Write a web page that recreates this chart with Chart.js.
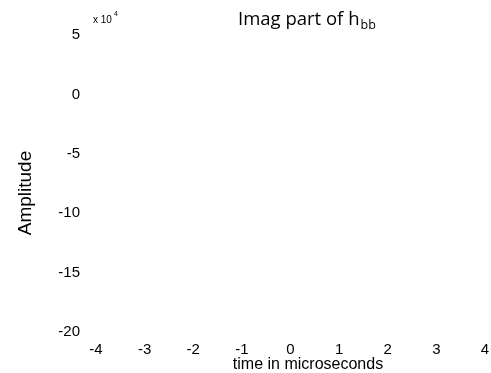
<!DOCTYPE html>
<html>
<head>
<meta charset="utf-8">
<script src="https://cdn.jsdelivr.net/npm/chart.js@4"></script>
<style>
    html, body { margin: 0; padding: 0; background: #fff; }
    #wrap { width: 491px; height: 373px; }
</style>
</head>
<body>
<div id="wrap"><canvas id="grafico"></canvas></div>
<script>
const xTicks = [-4, -3, -2, -1, 0, 1, 2, 3, 4];
const yTicks = [-20, -15, -10, -5, 0, 5];
const seriesTime = [];
const seriesImag = [];

const chartTitle = 'Imag part of h';
const chartTitleSub = 'bb';
const xTitle = 'time in microseconds';
const yTitle = 'Amplitude';

document.addEventListener('DOMContentLoaded', function () {
    const ctx = document.getElementById('grafico').getContext('2d');

    const textos = {
        id: 'textos',
        afterDraw(chart) {
            const c = chart.ctx;
            c.save();
            c.fillStyle = '#000';
            c.textBaseline = 'alphabetic';
            c.textAlign = 'left';

            // titulo con subindice
            c.font = '18.5px "Open Sans"';
            c.fillText(chartTitle, 238, 25);
            const w = c.measureText(chartTitle).width;
            c.font = '12.5px "Open Sans"';
            c.fillText(chartTitleSub, 238 + w + 1, 29);

            // multiplicador del eje y
            c.font = '10px "Liberation Sans"';
            c.fillText('x 10', 93, 23);
            c.font = '7px "Liberation Sans"';
            c.fillText('4', 114, 16);

            // titulo eje x
            c.textAlign = 'center';
            c.textBaseline = 'middle';
            c.font = '16px "Liberation Sans"';
            c.fillText(xTitle, 308, 365);

            // titulo eje y
            c.translate(26, 193);
            c.rotate(-Math.PI / 2);
            c.font = '19px "Liberation Sans"';
            c.fillText(yTitle, 0, 0);
            c.restore();
        }
    };

    const grafico = new Chart(ctx, {
        type: 'scatter',
        data: {
            datasets: [{
                label: 'Imag',
                data: seriesTime.map((t, i) => ({ x: t, y: seriesImag[i] })),
                borderColor: '#0000ff',
                showLine: true,
                pointRadius: 0
            }]
        },
        options: {
            responsive: true,
            maintainAspectRatio: false,
            animation: false,
            layout: {
                padding: { left: 55, right: 6, top: 35, bottom: 11 }
            },
            plugins: {
                legend: { display: false },
                title: { display: false },
                tooltip: { enabled: false }
            },
            scales: {
                x: {
                    type: 'linear',
                    min: xTicks[0],
                    max: xTicks[xTicks.length - 1],
                    afterFit: s => { s.height = 30; s.paddingLeft = 0; s.paddingRight = 0; },
                    afterBuildTicks: s => { s.ticks = xTicks.map(v => ({ value: v })); },
                    grid: { display: false, drawTicks: false },
                    border: { display: false },
                    ticks: {
                        color: '#000',
                        padding: 9,
                        font: { family: '"Liberation Sans"', size: 15 }
                    }
                },
                y: {
                    type: 'linear',
                    min: yTicks[0],
                    max: yTicks[yTicks.length - 1],
                    afterFit: s => { s.width = 41; },
                    afterBuildTicks: s => { s.ticks = yTicks.map(v => ({ value: v })); },
                    grid: { display: false, drawTicks: false },
                    border: { display: false },
                    ticks: {
                        color: '#000',
                        padding: 16,
                        font: { family: '"Liberation Sans"', size: 15 }
                    }
                }
            }
        },
        plugins: [textos]
    });
});
</script>
</body>
</html>
